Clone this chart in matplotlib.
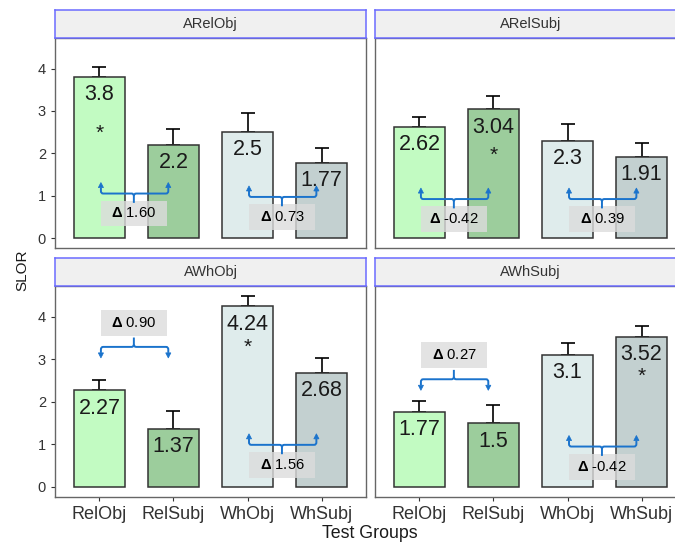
import matplotlib
matplotlib.use("Agg")
import matplotlib.pyplot as plt
from matplotlib.patches import Rectangle, PathPatch, Polygon
from matplotlib.path import Path

plt.rcParams['font.family'] = ['Liberation Sans', 'DejaVu Sans']
plt.rcParams['mathtext.fontset'] = 'custom'
plt.rcParams['mathtext.rm'] = 'Liberation Sans'
plt.rcParams['mathtext.bf'] = 'Liberation Sans:bold'

# ---------------- data ----------------
groups = ["RelObj", "RelSubj", "WhObj", "WhSubj"]
panels = ["ARelObj", "ARelSubj", "AWhObj", "AWhSubj"]

means_arelobj = [3.8, 2.2, 2.5, 1.77]
means_arelsubj = [2.62, 3.04, 2.3, 1.91]
means_awhobj = [2.27, 1.37, 4.24, 2.68]
means_awhsubj = [1.77, 1.5, 3.1, 3.52]

err_arelobj = [0.23, 0.38, 0.45, 0.35]
err_arelsubj = [0.23, 0.32, 0.40, 0.33]
err_awhobj = [0.25, 0.42, 0.25, 0.36]
err_awhsubj = [0.24, 0.43, 0.28, 0.25]

# significant group (index) per panel and star height
star_group = [0, 1, 2, 3]
star_y = [2.46, 1.95, 3.28, 2.61]

# delta comparisons per panel: (delta RelObj-RelSubj, delta WhObj-WhSubj)
delta_rel = [1.60, -0.42, 0.90, 0.27]
delta_wh = [0.73, 0.39, 1.56, -0.42]
# bracket line heights and directions
bracket_rel_y = [1.05, 0.92, 3.29, 2.53]
bracket_rel_dir = ["up", "up", "down", "down"]
bracket_wh_y = [0.97, 0.92, 0.99, 0.95]
bracket_wh_dir = ["up", "up", "up", "up"]

all_means = [means_arelobj, means_arelsubj, means_awhobj, means_awhsubj]
all_errs = [err_arelobj, err_arelsubj, err_awhobj, err_awhsubj]

bar_colors = ["#c2fbc2", "#9ccd9c", "#dfecec", "#c3d0d0"]
blue = "#1a73cc"

W, H = 675, 545
fig = plt.figure(figsize=(W / 100, H / 100), dpi=100)


def px_axes(x0, y0, x1, y1):
    return fig.add_axes([x0 / W, 1 - y1 / H, (x1 - x0) / W, (y1 - y0) / H])


panel_boxes = [
    (55, 38, 366, 248),
    (375, 38, 686, 248),
    (55, 286, 366, 497),
    (375, 286, 686, 497),
]
strip_h = 28


def draw_bracket(ax, x0, x1, L, direction):
    xm = (x0 + x1) / 2 - 0.01
    s = 1 if direction == "up" else -1
    tip = L + s * 0.26
    hl = 0.12   # arrow head length (y units)
    hw = 0.035  # arrow head half width (x units)
    tick = L - s * 0.22
    rx, ry = 0.03, 0.06
    verts = [
        (x0, tip - s * hl), (x0, L + s * ry), (x0, L), (x0 + rx, L),
        (xm - rx, L), (xm, L), (xm, L - s * ry), (xm, tick),
    ]
    codes = [Path.MOVETO, Path.LINETO, Path.CURVE3, Path.CURVE3,
             Path.LINETO, Path.CURVE3, Path.CURVE3, Path.LINETO]
    verts2 = [
        (xm, L - s * ry), (xm, L), (xm + rx, L), (x1 - rx, L),
        (x1, L), (x1, L + s * ry), (x1, tip - s * hl),
    ]
    codes2 = [Path.MOVETO, Path.CURVE3, Path.CURVE3, Path.LINETO,
              Path.CURVE3, Path.CURVE3, Path.LINETO]
    for v, c in ((verts, codes), (verts2, codes2)):
        ax.add_patch(PathPatch(Path(v, c), facecolor="none", edgecolor=blue,
                               lw=1.4, zorder=5))
    for xx in (x0, x1):
        ax.add_patch(Polygon([(xx - hw, tip - s * hl), (xx + hw, tip - s * hl),
                              (xx, tip)], closed=True, facecolor=blue,
                             edgecolor=blue, lw=0.5, zorder=6))
    return xm, (L - 0.47 if direction == "up" else L + 0.56)


def delta_box(ax, xm, cy, d):
    ax.add_patch(Rectangle((xm - 0.445, cy - 0.305), 0.89, 0.61,
                           facecolor="#dcdcdc", alpha=0.8, edgecolor="none",
                           zorder=4))
    ax.text(xm, cy, r"$\mathbf{\Delta}$" + f" {d:.2f}", ha="center",
            va="center", fontsize=10.6, color="black", zorder=7)


x = [1, 2, 3, 4]
for p in range(4):
    x0, y0, x1, y1 = panel_boxes[p]
    ax = px_axes(x0, y0, x1, y1)
    sax = px_axes(x0, y0 - strip_h, x1, y0)
    sax.set_facecolor("#f0f0f0")
    sax.set_xticks([])
    sax.set_yticks([])
    for sp in sax.spines.values():
        sp.set_color("#6b6bff")
        sp.set_linewidth(1.1)
    sax.text(0.5, 0.5, panels[p], transform=sax.transAxes, ha="center",
             va="center", fontsize=10.5, color="#333333")

    m = all_means[p]
    e = all_errs[p]
    ax.errorbar(x, m, yerr=[[0] * 4, e], fmt="none", ecolor="black",
                elinewidth=1.2, capsize=5, capthick=1.2, zorder=1)
    ax.bar(x, m, width=0.7, color=bar_colors, edgecolor="#333333",
           linewidth=1.1, zorder=2)
    for xi, v in zip(x, m):
        ax.text(xi, v - 0.42, f"{v:g}", ha="center", va="center",
                fontsize=15.5, color="#1a1a1a", zorder=3)
    g = star_group[p]
    ax.text(x[g], star_y[p], "*", ha="center", va="center", fontsize=15,
            color="#1a1a1a", zorder=3)

    xm, cy = draw_bracket(ax, 1.02, 1.93, bracket_rel_y[p], bracket_rel_dir[p])
    delta_box(ax, xm, cy, delta_rel[p])
    xm, cy = draw_bracket(ax, 3.02, 3.93, bracket_wh_y[p], bracket_wh_dir[p])
    delta_box(ax, xm, cy, delta_wh[p])

    ax.set_xlim(0.4, 4.6)
    ax.set_ylim(-0.235, 4.72)
    for sp in ax.spines.values():
        sp.set_color("#666666")
        sp.set_linewidth(1.0)
    ax.tick_params(colors="#333333", length=3, width=0.8)
    ax.set_xticks(x)
    ax.set_yticks([0, 1, 2, 3, 4])
    if p < 2:
        ax.tick_params(axis="x", bottom=False, labelbottom=False)
    else:
        ax.set_xticklabels(groups, fontsize=13, color="#333333")
    if p % 2 == 1:
        ax.tick_params(axis="y", left=False, labelleft=False)
    else:
        ax.set_yticklabels(["0", "1", "2", "3", "4"], fontsize=10.5,
                           color="#333333")

fig.text(22 / W, 1 - 270 / H, "SLOR", rotation=90, ha="center", va="center",
         fontsize=11, color="#1a1a1a")
fig.text(370 / W, 1 - 533 / H, "Test Groups", ha="center", va="center",
         fontsize=12.8, color="#1a1a1a")

fig.savefig("out.png", dpi=100)
